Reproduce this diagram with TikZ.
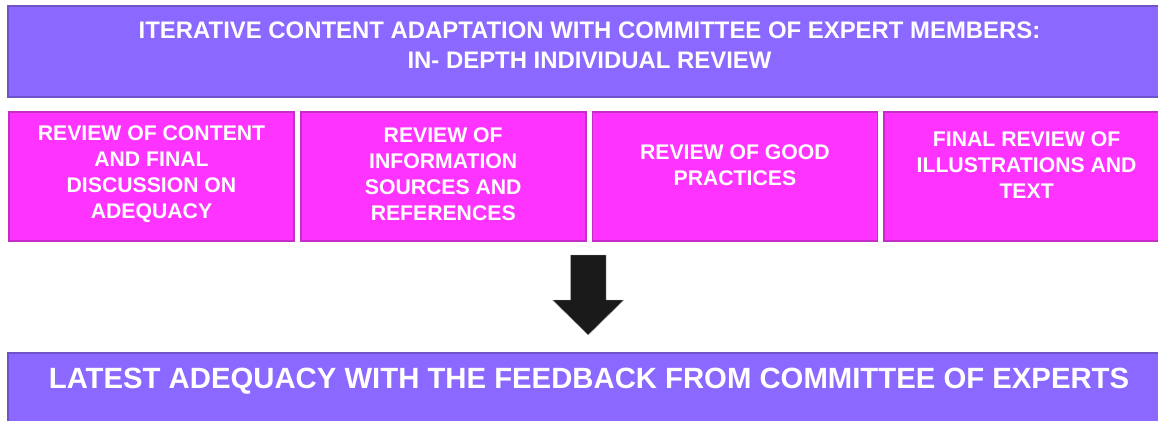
\documentclass[tikz,border=0pt]{standalone}
\usepackage{fontspec}
\setmainfont{Liberation Sans}

\definecolor{headfill}{HTML}{8B68FF}
\definecolor{headedge}{HTML}{6E54C8}
\definecolor{stagefill}{HTML}{FF33FF}
\definecolor{stageedge}{HTML}{C42EC4}
\definecolor{arrowfill}{HTML}{1A1A1A}

\tikzset{
  headbox/.style={draw=headedge, fill=headfill, line width=1.6pt},
  stagebox/.style={draw=stageedge, fill=stagefill, line width=1.6pt},
  headtext/.style={text=white, align=center, inner sep=0pt,
    font=\bfseries\fontsize{23.9}{30}\selectfont},
  stagetext/.style={text=white, align=center, inner sep=0pt,
    font=\bfseries\fontsize{21.2}{26}\selectfont},
  resulttext/.style={text=white, align=center, inner sep=0pt,
    font=\bfseries\fontsize{29.3}{34}\selectfont},
}

\begin{document}
\begin{tikzpicture}[x=1pt,y=-1pt]
  \useasboundingbox (0,0) rectangle (1158,420);
  \clip (0,0) rectangle (1158,420);

  % heading band
  \draw[headbox] (8,6) rectangle (1168,97);
  \node[headtext] (head) at (589.5,45)
    {ITERATIVE CONTENT ADAPTATION WITH COMMITTEE OF EXPERT MEMBERS:\\
     IN- DEPTH INDIVIDUAL REVIEW};

  % the four review stages
  \pgfmathsetmacro\bw{285}
  \pgfmathsetmacro\pitch{291.7}
  \foreach \i/\txt/\ty in {
      1/{REVIEW OF CONTENT\\AND FINAL\\DISCUSSION ON\\ADEQUACY}/174,
      2/{REVIEW OF\\INFORMATION\\SOURCES AND\\REFERENCES}/174,
      3/{REVIEW OF GOOD\\PRACTICES}/165.5,
      4/{FINAL REVIEW OF\\ILLUSTRATIONS AND\\TEXT}/165} {
    \pgfmathsetmacro\xl{9 + (\i-1)*\pitch}
    \pgfmathsetmacro\xr{\xl + \bw}
    \pgfmathsetmacro\xm{\xl + \bw/2}
    \draw[stagebox] (\xl,112) rectangle (\xr,241);
    \node[stagetext] (rev\i) at (\xm,\ty) {\txt};
  }

  % block arrow down to the result
  \fill[arrowfill, draw=gray!70, line width=0.4pt]
    (570.7,255) -- (606,255) -- (606,300) -- (623.7,300)
    -- (588.2,335) -- (552.5,300) -- (570.7,300) -- cycle;

  % result band
  \draw[headbox] (8,353) rectangle (1168,440);
  \node[resulttext] (result) at (589,381)
    {LATEST ADEQUACY WITH THE FEEDBACK FROM COMMITTEE OF EXPERTS};
\end{tikzpicture}
\end{document}
